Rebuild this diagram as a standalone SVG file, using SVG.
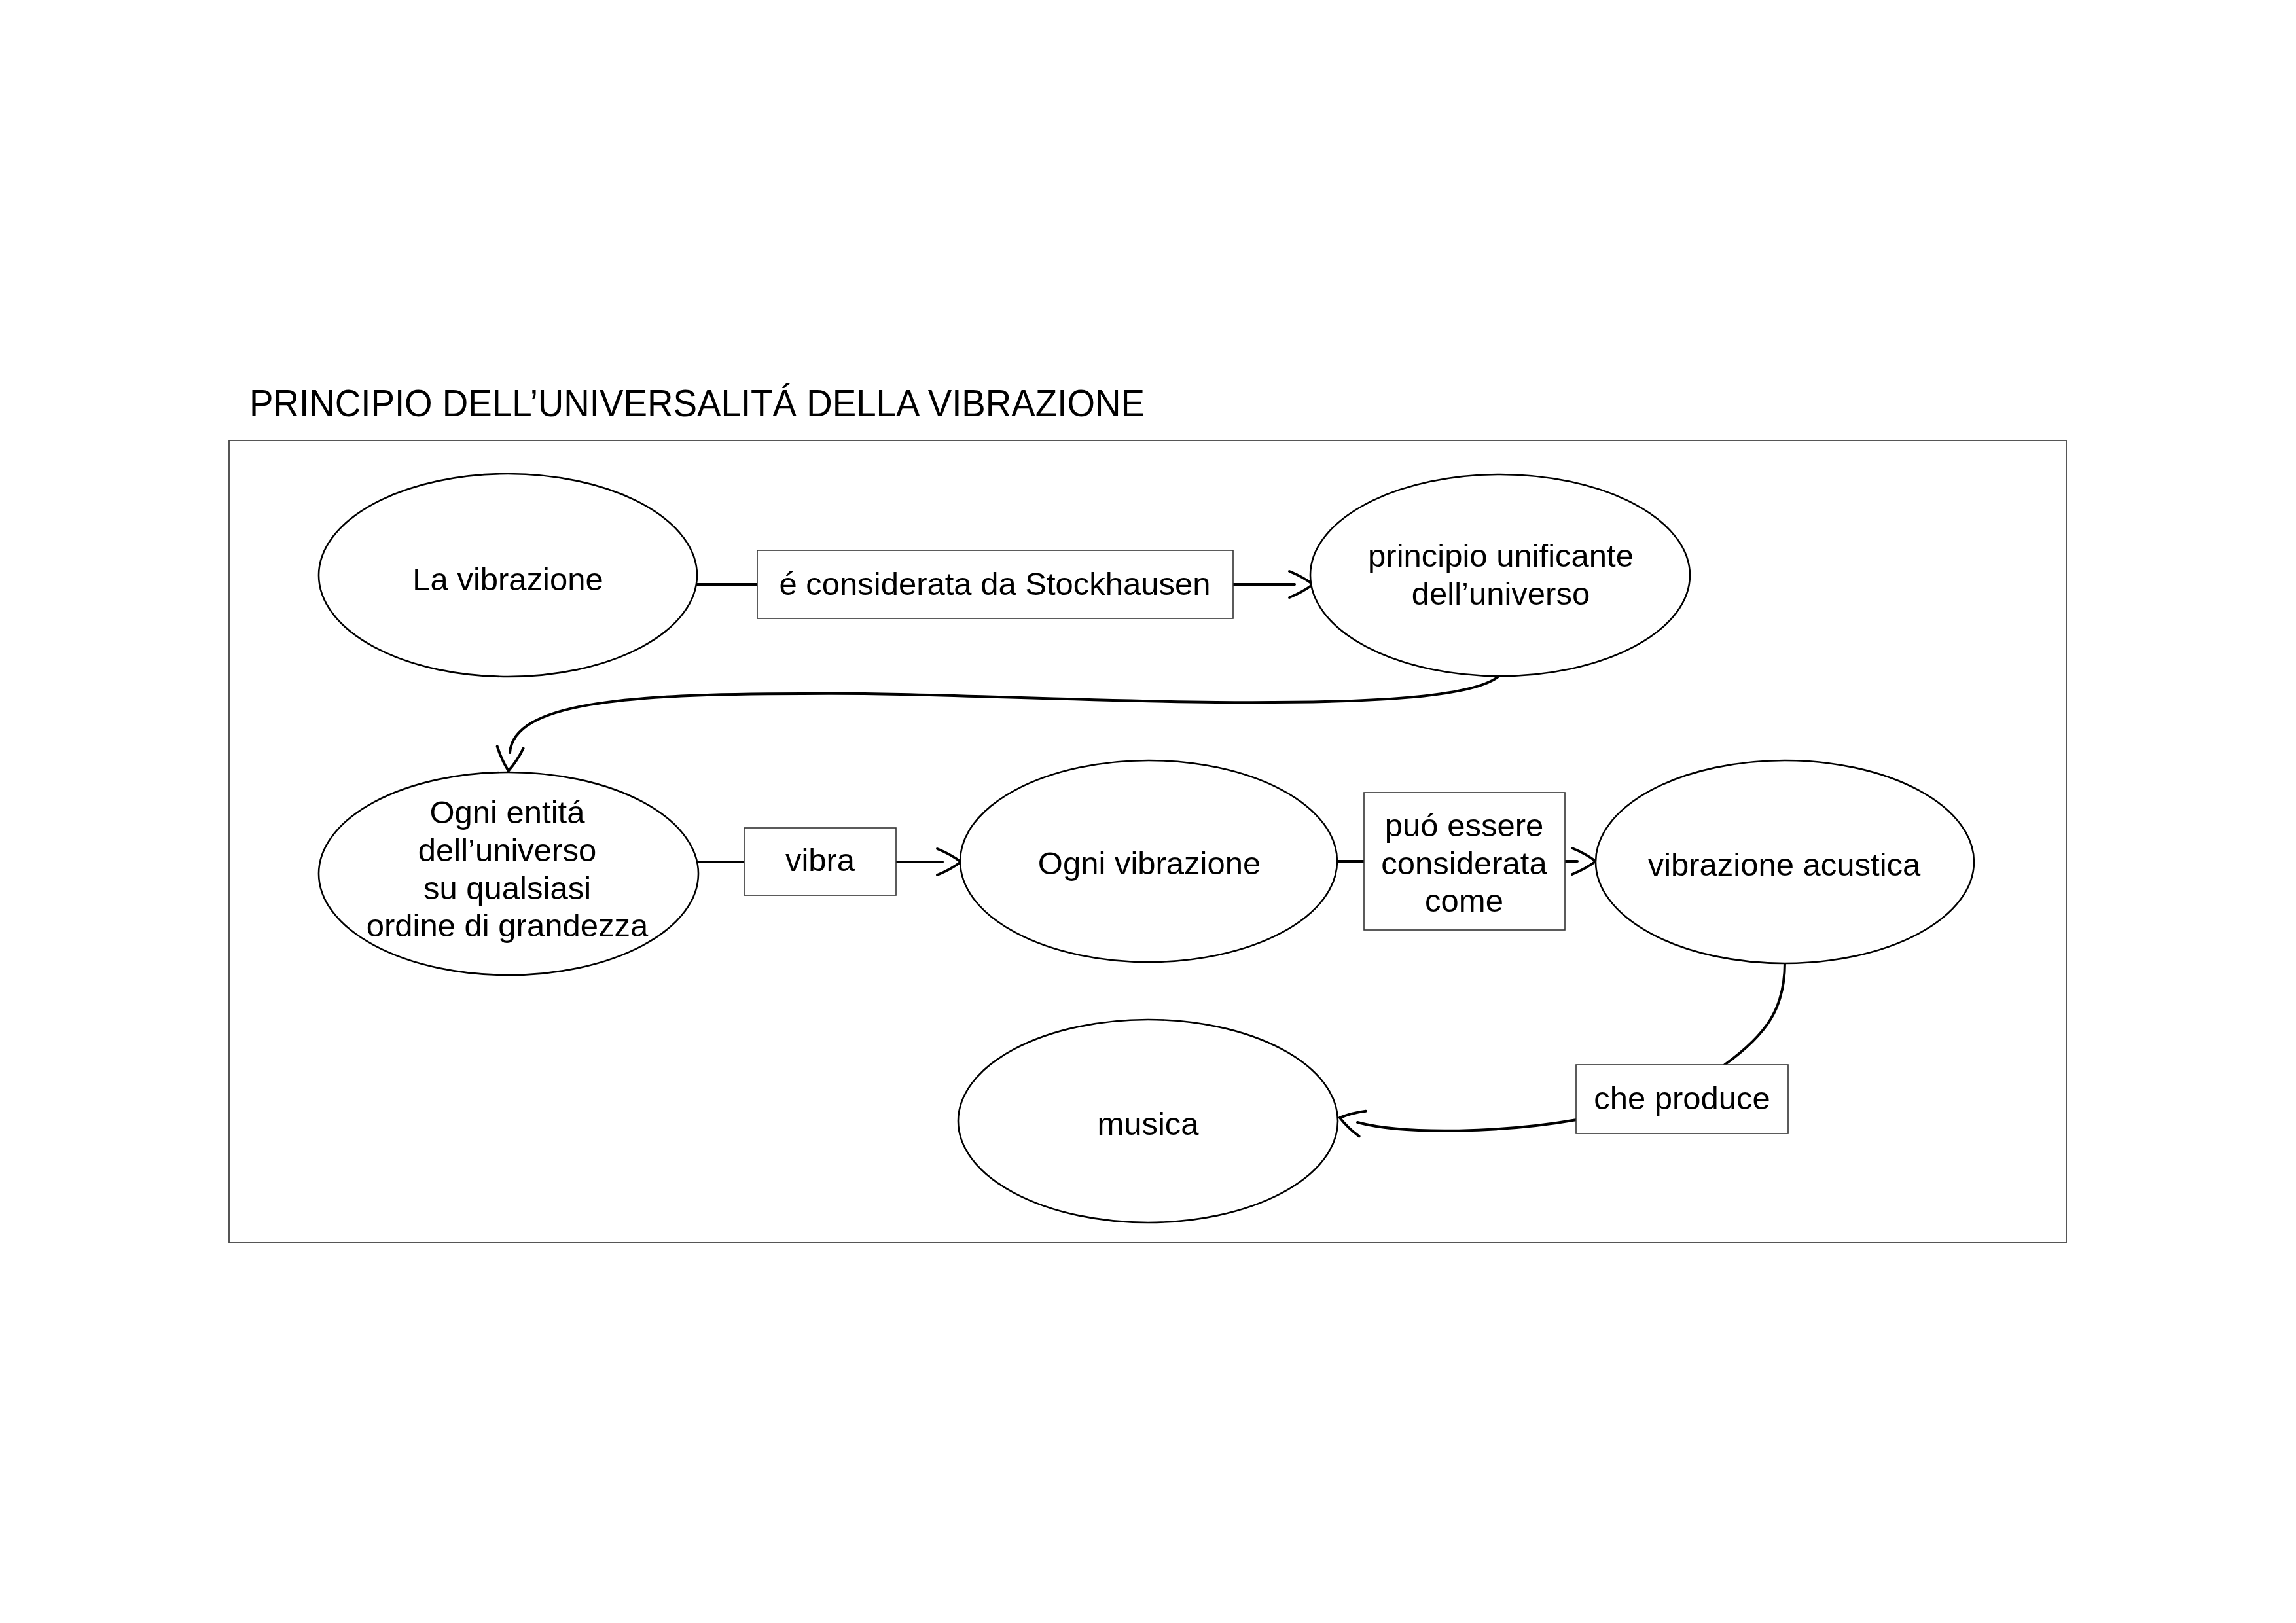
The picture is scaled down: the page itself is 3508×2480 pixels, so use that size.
<svg xmlns="http://www.w3.org/2000/svg" width="3508" height="2480" viewBox="0 0 3508 2480">
<style>
  text { font-family: "Liberation Sans", Arial, sans-serif; fill: #000; }
  .t { font-size: 49px; text-anchor: middle; }
  .title { font-size: 58px; }
  .node { fill: #fff; stroke: #000; stroke-width: 2.6; }
  .box { fill: #fff; stroke: #333; stroke-width: 1.6; }
  .frame { fill: none; stroke: #444; stroke-width: 1.8; }
  .conn { fill: none; stroke: #000; stroke-width: 4; stroke-linecap: round; }
</style>
<defs>
  <marker id="arr" markerUnits="userSpaceOnUse" markerWidth="60" markerHeight="60" refX="8" refY="0" viewBox="-4 -30 50 60" orient="auto" overflow="visible">
    <path d="M0,-20 Q20,-12 36,0 Q20,12 0,20" fill="none" stroke="#000" stroke-width="4" stroke-linecap="round" stroke-linejoin="round"/>
  </marker>
</defs>
<rect width="3508" height="2480" fill="#fff"/>
<text class="title" x="381" y="636" textLength="1368" lengthAdjust="spacingAndGlyphs">PRINCIPIO DELL’UNIVERSALITÁ DELLA VIBRAZIONE</text>
<rect class="frame" x="350" y="673" width="2807" height="1226"/>

<g id="connectors">
  <path class="conn" d="M1065 893 L1157 893"/>
  <path class="conn" d="M1884 893 L1978 893" marker-end="url(#arr)"/>
  <path class="conn" d="M2289 1034 C2250 1065 2100 1075 1858 1073 C1600 1070 1400 1058 1226 1060 C950 1060 785 1075 779 1150" marker-end="url(#arr)"/>
  <path class="conn" d="M1067 1317 L1137 1317"/>
  <path class="conn" d="M1369 1317 L1440 1317" marker-end="url(#arr)"/>
  <path class="conn" d="M2043 1316 L2084 1316"/>
  <path class="conn" d="M2391 1316 L2410 1316" marker-end="url(#arr)"/>
  <path class="conn" d="M2727 1471 C2727 1540 2700 1580 2635 1627"/>
  <path class="conn" d="M2409 1711 C2300 1730 2150 1735 2074 1715" marker-end="url(#arr)"/>
</g>

<g id="n-la-vibrazione">
  <ellipse class="node" cx="776" cy="879" rx="289" ry="155"/>
  <text class="t" x="776" y="902">La vibrazione</text>
</g>
<g id="l-considerata">
  <rect class="box" x="1157" y="841" width="727" height="104"/>
  <text class="t" x="1520" y="909">é considerata da Stockhausen</text>
</g>
<g id="n-principio">
  <ellipse class="node" cx="2292" cy="879" rx="290" ry="154"/>
  <text class="t" x="2293" y="866">principio unificante</text>
  <text class="t" x="2293" y="924">dell’universo</text>
</g>
<g id="n-ogni-entita">
  <ellipse class="node" cx="777" cy="1335" rx="290" ry="155"/>
  <text class="t" x="775" y="1258">Ogni entitá</text>
  <text class="t" x="775" y="1316">dell’universo</text>
  <text class="t" x="775" y="1374">su qualsiasi</text>
  <text class="t" x="775" y="1431">ordine di grandezza</text>
</g>
<g id="l-vibra">
  <rect class="box" x="1137" y="1265" width="232" height="103"/>
  <text class="t" x="1253" y="1331">vibra</text>
</g>
<g id="n-ogni-vibrazione">
  <ellipse class="node" cx="1755" cy="1316" rx="288" ry="154"/>
  <text class="t" x="1756" y="1336">Ogni vibrazione</text>
</g>
<g id="l-puo-essere">
  <rect class="box" x="2084" y="1211" width="307" height="210"/>
  <text class="t" x="2237" y="1278">puó essere</text>
  <text class="t" x="2237" y="1336">considerata</text>
  <text class="t" x="2237" y="1393">come</text>
</g>
<g id="n-vibrazione-acustica">
  <ellipse class="node" cx="2727" cy="1317" rx="289" ry="155"/>
  <text class="t" x="2726" y="1338">vibrazione acustica</text>
</g>
<g id="l-che-produce">
  <rect class="box" x="2408" y="1627" width="324" height="105"/>
  <text class="t" x="2570" y="1695">che produce</text>
</g>
<g id="n-musica">
  <ellipse class="node" cx="1754" cy="1713" rx="290" ry="155"/>
  <text class="t" x="1754" y="1734">musica</text>
</g>
</svg>
